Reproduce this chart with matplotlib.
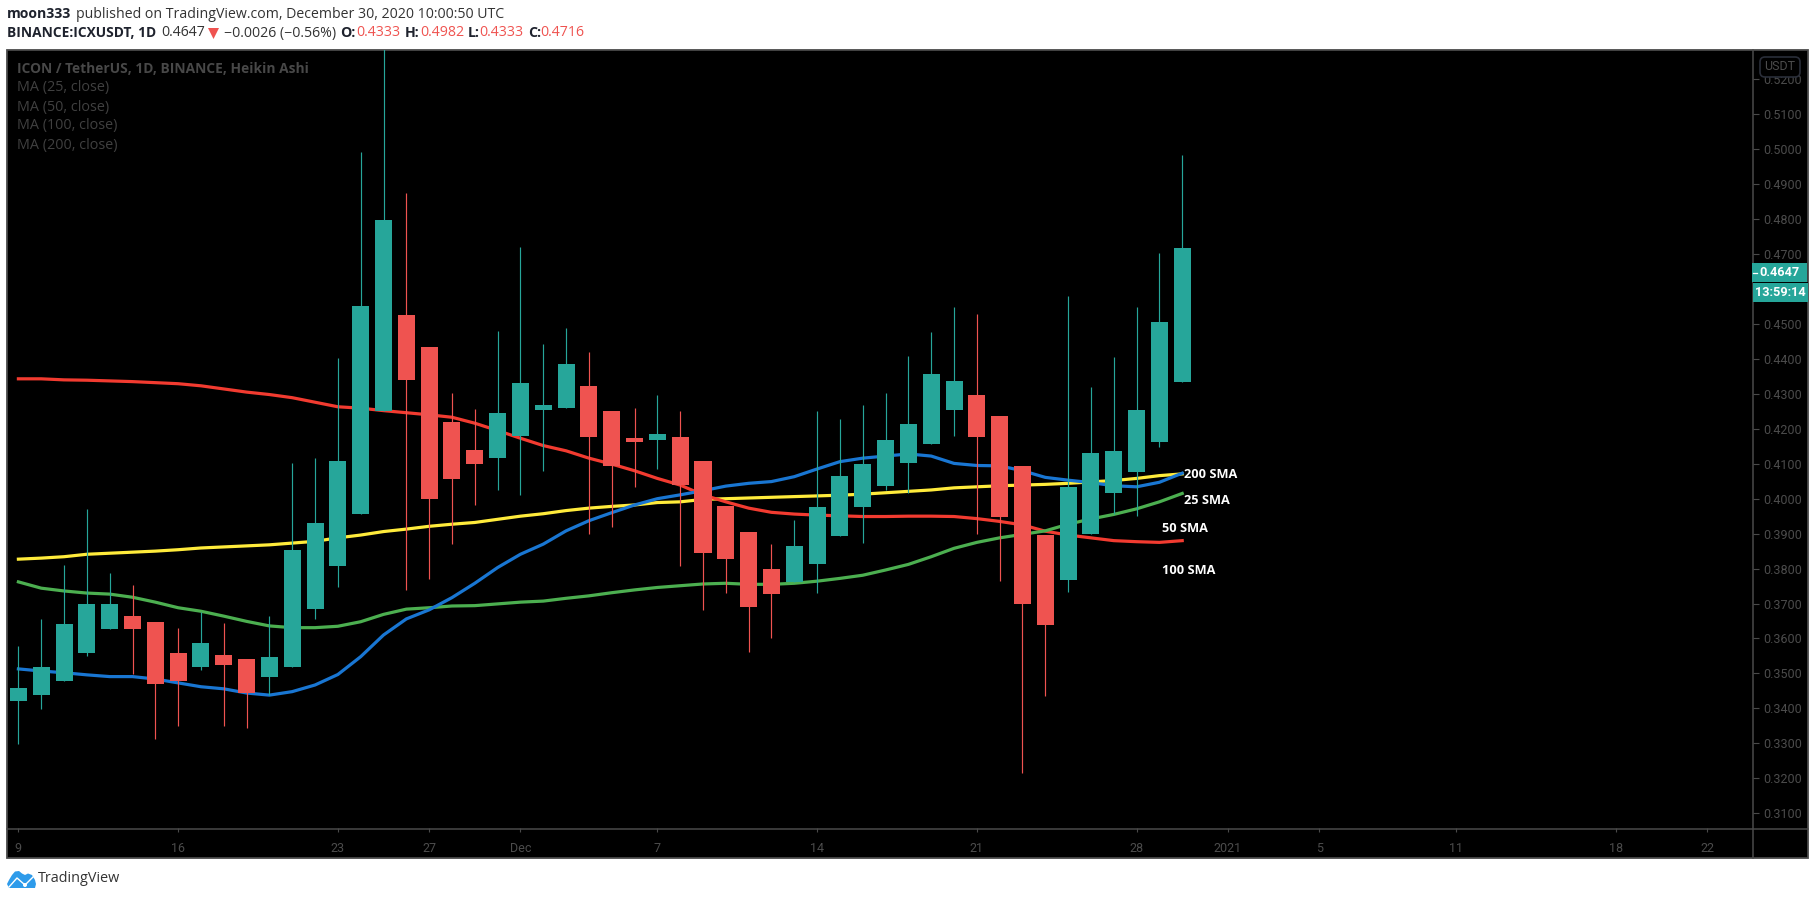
import numpy as np
import matplotlib
matplotlib.use("Agg")
import matplotlib.pyplot as plt
from matplotlib.patches import Rectangle, FancyBboxPatch, Polygon, Circle
from matplotlib.lines import Line2D
from matplotlib.transforms import Affine2D

W, H = 1816, 900

# ---------- data (prices) ----------
opens = [.3422,.3439,.3479,.3559,.3628,.3664,.3647,.3559,.3519,.3553,.3541,.3491,.3519,.3685,.3806,.3957,.4251,
         .4526,.4434,.4219,.4139,.4117,.4180,.4254,.4260,.4322,.4251,.4175,.4169,.4177,.4108,.3979,.3905,.3799,
         .3763,.3814,.3894,.3977,.4037,.4103,.4157,.4255,.4297,.4236,.4094,.3896,.3768,.3900,.4015,.4075,.4163,.4333]
closes = [.3458,.3519,.3642,.3699,.3699,.3628,.3471,.3479,.3587,.3525,.3444,.3547,.3853,.3931,.4108,.4551,.4798,
          .4340,.4000,.4057,.4100,.4245,.4331,.4268,.4386,.4177,.4094,.4163,.4185,.4040,.3845,.3828,.3691,.3728,
          .3865,.3976,.4065,.4099,.4168,.4214,.4357,.4337,.4177,.3948,.3700,.3640,.4034,.4131,.4136,.4254,.4506,.4716]
highs = [.3579,.3656,.3810,.3971,.3788,.3753,.3647,.3630,.3676,.3644,.3541,.3664,.4102,.4117,.4403,.4992,.5300,
         .4875,.4434,.4302,.4257,.4480,.4720,.4443,.4488,.4420,.4251,.4259,.4296,.4251,.4108,.3979,.3905,.3870,
         .3939,.4251,.4228,.4268,.4302,.4408,.4477,.4549,.4528,.4236,.4094,.3896,.4580,.4320,.4405,.4549,.4703,.4982]
lows = [.3299,.3399,.3479,.3551,.3628,.3497,.3313,.3351,.3511,.3351,.3345,.3438,.3519,.3657,.3746,.3957,.4251,
        .3740,.3771,.3871,.3983,.4026,.4011,.4080,.4260,.3899,.3920,.4034,.4086,.3806,.3682,.3731,.3562,.3600,
        .3763,.3731,.3894,.3872,.4026,.4016,.4157,.4180,.3899,.3765,.3216,.3436,.3734,.3900,.3955,.3951,.4149,.4333]

ma_blue = [.3513,.3507,.3502,.3496,.3491,.3491,.3484,.3473,.3462,.3456,.3444,.3438,.3448,.3467,.3497,.3548,.3610,
           .3656,.3682,.3717,.3758,.3803,.3841,.3870,.3908,.3937,.3960,.3982,.4000,.4011,.4023,.4036,.4044,.4049,
           .4063,.4085,.4106,.4116,.4122,.4128,.4122,.4101,.4095,.4094,.4080,.4061,.4053,.4046,.4037,.4034,.4047,.4073]
ma_green = [.3762,.3744,.3736,.3730,.3727,.3718,.3704,.3688,.3678,.3664,.3649,.3636,.3631,.3631,.3635,.3648,.3669,
            .3684,.3688,.3693,.3694,.3699,.3704,.3707,.3715,.3722,.3731,.3739,.3746,.3751,.3756,.3758,.3755,.3755,
            .3758,.3764,.3772,.3781,.3796,.3812,.3834,.3858,.3875,.3888,.3898,.3908,.3927,.3942,.3955,.3971,.3991,.4015]
ma_yellow = [.3827,.3830,.3834,.3841,.3844,.3847,.3850,.3854,.3859,.3862,.3865,.3868,.3873,.3878,.3888,.3896,.3906,
             .3913,.3921,.3927,.3932,.3941,.3950,.3957,.3966,.3973,.3978,.3982,.3989,.3991,.3998,.4000,.4002,.4004,
             .4006,.4008,.4010,.4013,.4017,.4021,.4025,.4031,.4034,.4037,.4039,.4041,.4044,.4048,.4052,.4058,.4066,.4071]
ma_red = [.4343,.4343,.4340,.4339,.4337,.4335,.4332,.4329,.4323,.4314,.4305,.4298,.4289,.4276,.4263,.4259,.4252,
          .4246,.4240,.4233,.4216,.4195,.4173,.4152,.4137,.4116,.4099,.4080,.4058,.4039,.4011,.3991,.3973,.3961,
          .3956,.3953,.3951,.3949,.3949,.3950,.3950,.3949,.3943,.3935,.3925,.3907,.3896,.3888,.3880,.3877,.3875,.3880]

date_ticks = [0, 7, 14, 18, 22, 28, 35, 42, 49, 53, 57, 63, 70, 74]
date_labels = ['9', '16', '23', '27', 'Dec', '7', '14', '21', '28', '2021', '5', '11', '18', '22']
price_ticks = [.31,.32,.33,.34,.35,.36,.37,.38,.39,.40,.41,.42,.43,.44,.45,.47,.48,.49,.50,.51,.52]

# ---------- style ----------
UP, DOWN = '#26a69a', '#ef5350'
GRID = '#4a4a4a'
TXT = '#4c4c4c'
SANS = ['Open Sans', 'DejaVu Sans']
TICK = ['Roboto', 'DejaVu Sans']

fig = plt.figure(figsize=(W / 100, H / 100), dpi=100, facecolor='white')
px = Affine2D().scale(1, -1).translate(0, H)   # top-left pixel coordinates

# outer frame
fig.add_artist(Rectangle((7, 50), 1801, 808, transform=px, facecolor='black', edgecolor=GRID, lw=1.3, zorder=-1))

L, R, T, B = 7.5, 1752.5, 50.0, 828.0
ax = fig.add_axes([L / W, 1 - B / H, (R - L) / W, (B - T) / H], facecolor='black', zorder=1)
ax.patch.set_alpha(0)
for s in ax.spines.values():
    s.set_visible(False)

n = len(opens)
x = np.arange(n)
ax.set_xlim((L - 18.4) / 22.82, (R - 18.4) / 22.82)
ax.set_ylim(0.30578, 0.52838)

for vals, col in [(ma_yellow, '#ffeb3b'), (ma_red, '#f23b30'), (ma_green, '#4caf50'), (ma_blue, '#1976d2')]:
    ax.plot(x, vals, color=col, lw=2.3, solid_capstyle='projecting', solid_joinstyle='round', zorder=2)

for i in range(n):
    col = UP if closes[i] >= opens[i] else DOWN
    ax.vlines(x[i], lows[i], highs[i], color=col, lw=0.85, zorder=3)
    ax.bar(x[i], abs(closes[i] - opens[i]), bottom=min(opens[i], closes[i]), width=0.745, color=col, lw=0, zorder=4)

ax.set_xticks(date_ticks)
ax.set_xticklabels(date_labels, family=TICK, fontsize=9.0, color=TXT)
ax.tick_params(axis='x', length=3, width=0.8, color=GRID, pad=7)
ax.yaxis.tick_right()
ax.set_yticks(price_ticks)
ax.set_yticklabels([f'{p:.4f}' for p in price_ticks], family=TICK, fontsize=9.0, color=TXT)
ax.tick_params(axis='y', length=4, width=0.8, color=GRID, pad=3.5)

# axis dividers
fig.add_artist(Line2D([1752.5, 1752.5], [50, 858], transform=px, color=GRID, lw=1.1, zorder=2))
fig.add_artist(Line2D([7, 1808], [828.5, 828.5], transform=px, color=GRID, lw=1.1, zorder=2))

def t(xp, yp, s, **kw):
    kw.setdefault('va', 'center')
    kw.setdefault('family', SANS)
    return fig.text(xp, yp, s, transform=px, zorder=10, **kw)

# header
t(7, 14.5, 'moon333', fontsize=10.1, fontweight='bold', color='#1e222d')
t(76, 14.5, 'published on TradingView.com, December 30, 2020 10:00:50 UTC', fontsize=10.18, color='#333333')
t(7, 33, 'BINANCE:ICXUSDT, 1D', fontsize=9.9, fontweight='bold', color='#1e222d')
t(161, 33, '0.4647', fontsize=10.2, color='#333333')
fig.add_artist(Polygon([(208, 28), (219, 28), (213.5, 39)], closed=True, transform=px, facecolor=DOWN, edgecolor='none', zorder=10))
t(224, 33, '\u22120.0026 (\u22120.56%)', fontsize=10.2, color='#333333')
for xl, lab, xv, val in [(340, 'O:', 356, '0.4333'), (404.5, 'H:', 420, '0.4982'), (468, 'L:', 479.6, '0.4333'), (528, 'C:', 540, '0.4716')]:
    t(xl, 33, lab, fontsize=10.2, fontweight='bold', color='#1e222d')
    t(xv, 33, val, fontsize=10.2, color=DOWN)

# pane legend
t(17, 69, 'ICON / TetherUS, 1D, BINANCE, Heikin Ashi', fontsize=9.9, fontweight='bold', color='#484848')
for yp, s in [(88, 'MA (25, close)'), (107, 'MA (50, close)'), (126, 'MA (100, close)'), (145, 'MA (200, close)')]:
    t(17, yp, s, fontsize=10.4, color='#404040')

# annotations
for xp, yp, s in [(1184, 475, '200 SMA'), (1184, 500, '25 SMA'), (1161.7, 528, '50 SMA'), (1161.7, 570, '100 SMA')]:
    t(xp, yp, s, fontsize=9.2, fontweight='bold', color='white')

# USDT badge
fig.add_artist(FancyBboxPatch((1763, 60), 34, 14, boxstyle='round,pad=3,rounding_size=5', transform=px,
                              facecolor='black', edgecolor='#2a2e39', lw=1.2, zorder=8))
t(1780, 67, 'USDT', family=TICK, fontsize=9.0, color=TXT, ha='center')

# last price and countdown
fig.add_artist(Rectangle((1752, 263), 55, 18.7, transform=px, facecolor=UP, edgecolor='none', zorder=8))
fig.add_artist(Rectangle((1753, 281.7), 55, 1.3, transform=px, facecolor='black', edgecolor='none', zorder=8))
fig.add_artist(Rectangle((1753, 283), 55, 18.7, transform=px, facecolor=UP, edgecolor='none', zorder=8))
fig.add_artist(Line2D([1753, 1757], [272.5, 272.5], transform=px, color='white', lw=0.9, zorder=9))
t(1779, 272.3, '0.4647', family=TICK, fontsize=9.2, fontweight='bold', color='white', ha='center')
t(1780.5, 292.5, '13:59:14', family=TICK, fontsize=9.2, fontweight='bold', color='white', ha='center')

# TradingView logo
logo = [(7, 884), (9, 880), (12, 875), (15, 871.5), (19, 871), (22, 873.5), (25, 875), (28, 873.5), (32, 875), (35, 880), (36, 884), (35, 888), (9, 888)]
fig.add_artist(Polygon(logo, closed=True, transform=px, facecolor='#2e9bea', edgecolor='none', zorder=8))
fig.add_artist(Line2D([9, 17, 25, 33], [887, 878, 885, 877], transform=px, color='white', lw=1.0, zorder=9))
fig.add_artist(Circle((25, 885), 2.0, transform=px, facecolor='white', edgecolor='none', zorder=9))
t(38, 879, 'TradingView', fontsize=10.4, color='#333333')

fig.savefig('out.png', dpi=100, facecolor='white')
